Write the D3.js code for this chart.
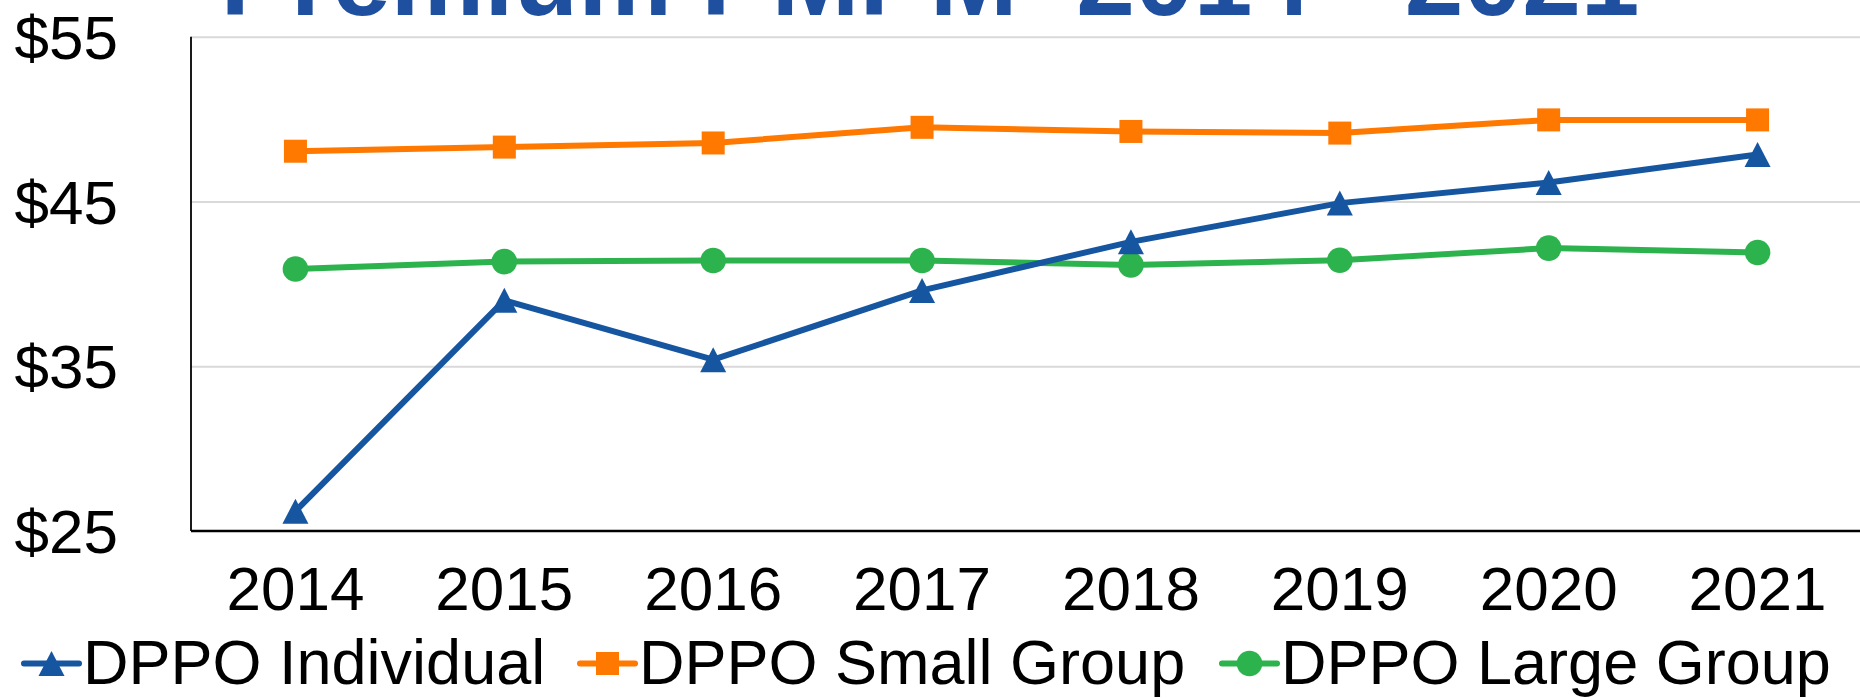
<!DOCTYPE html>
<html>
<head>
<meta charset="utf-8">
<script src="https://cdn.jsdelivr.net/npm/d3@7"></script>
<style>
  html, body { margin: 0; padding: 0; background: #fff; }
  svg { display: block; }
  text { font-family: "Liberation Sans", Arial, sans-serif; }
</style>
</head>
<body>
<svg id="chart" width="1860" height="698"></svg>
<script>
// ---- data ----
const years = ["2014", "2015", "2016", "2017", "2018", "2019", "2020", "2021"];
const individual = [26.2, 39.0, 35.4, 39.6, 42.55, 44.9, 46.15, 47.85];
const smallGroup = [48.05, 48.3, 48.55, 49.5, 49.25, 49.15, 49.95, 49.95];
const largeGroup = [40.9, 41.35, 41.42, 41.42, 41.15, 41.43, 42.17, 41.9];
const yTicks = [25, 35, 45, 55];
const seriesNames = ["DPPO Individual", "DPPO Small Group", "DPPO Large Group"];
const titleText = "Premium PMPM  2014 - 2021";

(function () {
// ---- layout ----
const W = 1860, H = 698;
const pLeft = 191, pRight = 1862, pTop = 36.7, pBottom = 531;
const svg = d3.select("#chart");
svg.append("rect").attr("width", W).attr("height", H).attr("fill", "#fff");

const x = d3.scaleBand().domain(years).range([pLeft, pRight]).padding(0);
const xc = d => x(d) + x.bandwidth() / 2;
const y = d3.scaleLinear().domain([25, 55]).range([pBottom, pTop]);

// gridlines
const grid = svg.append("g").attr("transform", `translate(${pLeft},0)`)
  .call(d3.axisLeft(y).tickValues(yTicks.filter(v => v > 25)).tickSize(-(W - pLeft)).tickFormat(""));
grid.select(".domain").remove();
grid.selectAll(".tick line").attr("stroke", "#d9d9d9").attr("stroke-width", 2);

// y axis labels
const yAxis = svg.append("g").attr("transform", `translate(${pLeft},0)`)
  .call(d3.axisLeft(y).tickValues(yTicks).tickSize(0).tickPadding(73).tickFormat(d => "$" + d));
yAxis.select(".domain").remove();
yAxis.selectAll(".tick text")
  .attr("font-size", 62).attr("fill", "#000")
  .attr("font-family", "Liberation Sans, Arial, sans-serif")
  .attr("dy", "0.35em");

// left axis line
svg.append("line").attr("x1", pLeft).attr("x2", pLeft).attr("y1", pTop).attr("y2", pBottom)
  .attr("stroke", "#000").attr("stroke-width", 1.8);

// x axis
const xAxis = svg.append("g").attr("transform", `translate(0,${pBottom})`)
  .call(d3.axisBottom(x).tickSize(0).tickPadding(35));
xAxis.select(".domain").remove();
xAxis.selectAll(".tick text")
  .attr("font-size", 62).attr("fill", "#000")
  .attr("font-family", "Liberation Sans, Arial, sans-serif");
svg.append("line").attr("x1", pLeft).attr("x2", W).attr("y1", pBottom).attr("y2", pBottom)
  .attr("stroke", "#000").attr("stroke-width", 2.6);

// title
svg.append("text").attr("x", 930).attr("y", 15)
  .attr("text-anchor", "middle").attr("font-size", 105.5).attr("font-weight", "bold")
  .attr("fill", "#1f4f9f").style("white-space", "pre").text(titleText);

// series
const colors = ["#1656a1", "#ff7800", "#2db34d"];
const data = [individual, smallGroup, largeGroup];
const shapes = ["triangle", "square", "circle"];

function drawMarker(g, shape, cx, cy, color) {
  if (shape === "triangle") {
    const w = 26, h = 25;
    g.append("path").attr("d", `M${cx},${cy - h / 2}L${cx + w / 2},${cy + h / 2}L${cx - w / 2},${cy + h / 2}Z`)
      .attr("fill", color);
  } else if (shape === "square") {
    const s = 23;
    g.append("rect").attr("x", cx - s / 2).attr("y", cy - s / 2).attr("width", s).attr("height", s).attr("fill", color);
  } else {
    g.append("circle").attr("cx", cx).attr("cy", cy).attr("r", 12.8).attr("fill", color);
  }
}

const line = d3.line().x((d, i) => xc(years[i])).y(d => y(d));
[2, 1, 0].forEach(si => {
  const g = svg.append("g");
  g.append("path").datum(data[si]).attr("d", line)
    .attr("fill", "none").attr("stroke", colors[si]).attr("stroke-width", 6)
    .attr("stroke-linejoin", "round");
  data[si].forEach((v, i) => drawMarker(g, shapes[si], xc(years[i]), y(v), colors[si]));
});

// legend
const legY = 663.5, baseY = 683.5;
const legStarts = [24, 580, 1222];
seriesNames.forEach((name, si) => {
  const lx = legStarts[si];
  const g = svg.append("g");
  g.append("line").attr("x1", lx).attr("x2", lx + 55).attr("y1", legY).attr("y2", legY)
    .attr("stroke", colors[si]).attr("stroke-width", 6).attr("stroke-linecap", "round");
  drawMarker(g, shapes[si], lx + 27.5, legY, colors[si]);
  g.append("text").attr("x", lx + 59).attr("y", baseY)
    .attr("font-size", 63).attr("fill", "#000").text(name);
});
})();
</script>
</body>
</html>
